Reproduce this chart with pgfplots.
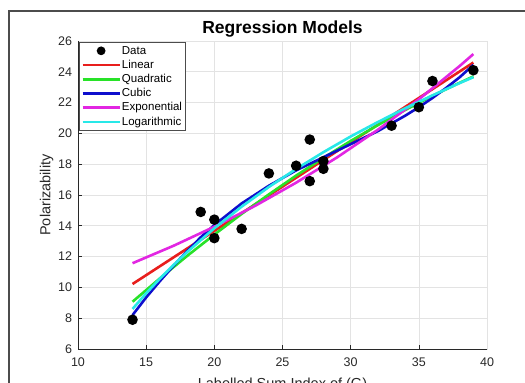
\documentclass[border=0pt]{standalone}
\usepackage{fontspec}
\setmainfont{Liberation Sans}
\usepackage{pgfplots}
\pgfplotsset{compat=1.18}
\definecolor{cR}{RGB}{232,30,28}
\definecolor{cG}{RGB}{40,226,40}
\definecolor{cB}{RGB}{14,14,205}
\definecolor{cM}{RGB}{226,38,226}
\definecolor{cC}{RGB}{40,232,232}
\definecolor{axc}{RGB}{40,40,40}
\pgfplotsset{
  mylinelegend/.style={legend image code/.code={\draw[##1] (0pt,0pt) -- (37pt,0pt);}},
  mydotlegend/.style={legend image code/.code={\draw[##1, mark size=3pt, mark repeat=2, mark phase=2] plot coordinates {(0pt,0pt) (18.5pt,0pt) (37pt,0pt)};}},
}
\begin{document}
\begin{tikzpicture}[x=1pt,y=1pt]
\path[use as bounding box] (0,0) rectangle (525,383);
\draw[color=black!70, line width=1.2pt] (9,0) -- (9,372) -- (525,372);
\begin{axis}[
  at={(78pt,34pt)}, anchor=south west,
  scale only axis, width=409pt, height=308pt,
  xmin=10, xmax=40, ymin=6, ymax=26,
  xtick={10,15,...,40}, ytick={6,8,...,26},
  grid=major, major grid style={color=black!11, line width=0.6pt},
  axis line style={color=black!11, line width=0.6pt},
  tick style={color=axc, line width=0.6pt},
  major tick length=4pt, tick align=inside,
  xtick pos=bottom, ytick pos=left,
  /pgf/number format/assume math mode=true,
  ticklabel style={font=\fontsize{12.5}{14}\selectfont, text=axc},
  xticklabel style={yshift=-5.5pt},
  yticklabel style={xshift=-2.5pt},
  title={Regression Models},
  title style={font=\fontsize{17.5}{20}\selectfont\bfseries, at={(axis description cs:0.5,1)}, anchor=south, yshift=-5.5pt},
  xlabel={Labelled Sum Index of (G)},
  xlabel style={font=\fontsize{14.5}{17}\selectfont, text=axc, at={(axis description cs:0.5,0)}, anchor=north, yshift=-25pt},
  ylabel={Polarizability},
  ylabel style={font=\fontsize{14.5}{17}\selectfont, text=axc, at={(axis description cs:-0.077,0.5)}, anchor=center},
  legend cell align=left,
  legend style={at={(axis description cs:0.0025,0.997)}, anchor=north west,
    draw=black!70, line width=0.6pt, fill=white,
    font=\fontsize{11.5}{13}\selectfont,
    inner xsep=2pt, inner ysep=1.5pt, row sep=0pt,
    nodes={inner sep=1pt, text height=9.4pt, text depth=2.8pt}},
  mylinelegend,
  after end axis/.code={\draw[color=axc, line width=0.8pt] (rel axis cs:0,1) -- (rel axis cs:0,0) -- (rel axis cs:1,0);},
  every axis plot/.append style={line width=2.6pt},
]
\addplot[only marks, mark=*, mark size=3.9pt, color=black, mydotlegend]
coordinates {(14,7.9) (19,14.9) (20,14.4) (20,13.2) (22,13.8) (24,17.4) (26,17.9) (27,19.6) (27,16.9) (28,18.2) (28,17.7) (33,20.5) (35,21.7) (36,23.4) (39,24.1)};
\addlegendentry{Data}
\addplot[color=cR] coordinates {(14,10.22) (20,13.67) (26,17.12) (32,20.57) (39,24.6)};
\addlegendentry{Linear}
\addplot[color=cG] coordinates {(14,9.07) (16,10.58) (18,12.04) (20,13.43) (22,14.77) (24,16.04) (26,17.26) (28,18.41) (30,19.51) (32,20.54) (34,21.52) (36,22.44) (38,23.29) (39,23.70)};
\addlegendentry{Quadratic}
\addplot[color=cB] coordinates {(14,8.2) (15,9.35) (16,10.4) (17,11.4) (18,12.35) (19,13.25) (20,14.05) (22,15.45) (24,16.6) (26,17.6) (28,18.45) (30,19.3) (32,20.15) (34,21.15) (35,21.7) (36,22.3) (37,22.95) (38,23.65) (39,24.45)};
\addlegendentry{Cubic}
\addplot[color=cM] coordinates {(14,11.57) (17,12.70) (20,13.94) (23,15.30) (26,16.80) (29,18.44) (32,20.24) (35,22.21) (38,24.38) (39,25.15)};
\addlegendentry{Exponential}
\addplot[color=cC] coordinates {(14,8.60) (15,9.62) (16,10.56) (17,11.45) (18,12.29) (20,13.84) (22,15.24) (24,16.52) (26,17.69) (28,18.78) (30,19.80) (32,20.74) (34,21.63) (36,22.47) (38,23.27) (39,23.65)};
\addlegendentry{Logarithmic}
\end{axis}
\end{tikzpicture}
\end{document}
